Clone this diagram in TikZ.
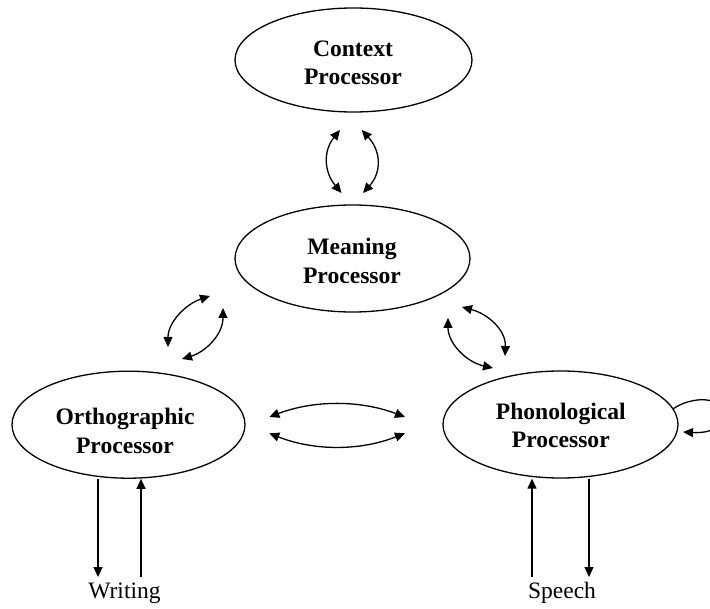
\documentclass[tikz,border=0pt]{standalone}
\usepackage{fontspec}
\setmainfont{Liberation Serif}
\usetikzlibrary{shapes.geometric,arrows.meta}

\tikzset{
  proc/.style={ellipse, draw, line width=1.3pt, inner sep=0pt,
               minimum width=235pt, minimum height=107pt},
  ptext/.style={font=\fontsize{23.6}{28.3}\selectfont\bfseries, align=center, inner sep=0pt},
  iotext/.style={font=\fontsize{23.5}{28}\selectfont, inner sep=0pt, anchor=base},
  tip/.tip={Triangle[length=10pt,width=9pt]},
  link/.style={line width=1.3pt, tip-tip},
  flow/.style={line width=1.3pt, -tip},
}

\begin{document}
\begin{tikzpicture}[x=1pt, y=-1pt]
  \useasboundingbox (0,0) rectangle (710,609);
  \clip (0,0) rectangle (710,609);

  % processors
  \node[proc] (ctx)  at (353.5,60)    [minimum width=237pt, minimum height=104pt] {};
  \node[proc] (mean) at (352.5,258.5) {};
  \node[proc] (orth) at (128.5,424.7) [minimum width=233pt] {};
  \node[proc] (phon) at (560.5,424.5) {};

  \node[ptext] (ctxT)  at (353,62.8)  {Context\\Processor};
  \node[ptext] (meanT) at (352,261)   {Meaning\\Processor};
  \node[ptext] (orthT) at (125,431)   {Orthographic\\Processor};
  \node[ptext] (phonT) at (560.8,425.5) {Phonological\\Processor};

  % context <-> meaning
  \coordinate (cmA1) at (340,130);   \coordinate (cmA2) at (341.5,193);
  \coordinate (cmB1) at (361.7,130); \coordinate (cmB2) at (363,193);
  \draw[link] (cmA1) .. controls (323,151) and (324,172) .. (cmA2);
  \draw[link] (cmB1) .. controls (381,151) and (382,172) .. (cmB2);

  % meaning <-> orthographic
  \coordinate (moA1) at (210,296); \coordinate (moA2) at (168,347);
  \coordinate (moB1) at (223,308); \coordinate (moB2) at (182,359);
  \draw[link] (moA1) .. controls (186,304) and (168,322) .. (moA2);
  \draw[link] (moB1) .. controls (223,335) and (205,352) .. (moB2);

  % meaning <-> phonological
  \coordinate (mpA1) at (462,307); \coordinate (mpA2) at (505,356);
  \coordinate (mpB1) at (448,318); \coordinate (mpB2) at (493,368);
  \draw[link] (mpA1) .. controls (488,314) and (506,330) .. (mpA2);
  \draw[link] (mpB1) .. controls (448,343) and (466,362) .. (mpB2);

  % orthographic <-> phonological
  \coordinate (opA1) at (269.3,417);   \coordinate (opA2) at (405,417);
  \coordinate (opB1) at (269.3,433.3); \coordinate (opB2) at (405,433.3);
  \draw[link] (opA1) .. controls (314,400) and (360,400) .. (opA2);
  \draw[link] (opB1) .. controls (314,451) and (360,451) .. (opB2);

  % phonological self loop
  \coordinate (loopT) at (724,414);
  \coordinate (loopE) at (683,432);
  \draw[flow] (phon.8) .. controls (692,396) and (722,396) .. (loopT)
              .. controls (726,432) and (700,433) .. (loopE);

  % writing
  \coordinate (wOut) at (98,577);
  \coordinate (wIn)  at (141,577);
  \draw[flow] (wOut |- orth.south) -- (wOut);
  \draw[flow] (wIn) -- (wIn |- orth.south);
  \node[iotext] (wr) at (124.5,598) {Writing};

  % speech
  \coordinate (sIn)  at (532,577);
  \coordinate (sOut) at (589,577);
  \draw[flow] (sIn) -- (sIn |- phon.south);
  \draw[flow] (sOut |- phon.south) -- (sOut);
  \node[iotext] (sp) at (562,598) {Speech};
\end{tikzpicture}
\end{document}
